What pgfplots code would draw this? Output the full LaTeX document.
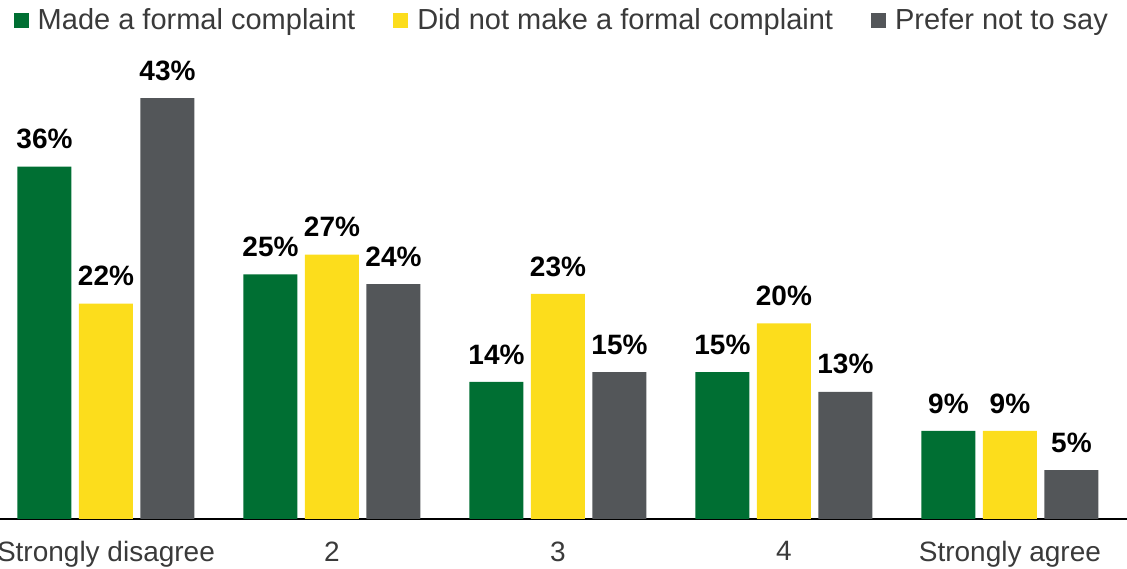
\documentclass[border=0pt]{standalone}
\usepackage{fontspec}
\setmainfont{Liberation Sans}
\usepackage{pgfplots}
\pgfplotsset{compat=1.18}
\definecolor{cgreen}{HTML}{006F33}
\definecolor{cyellow}{HTML}{FCDD1C}
\definecolor{cgray}{HTML}{535659}
\definecolor{ctext}{HTML}{3A3A3A}
\begin{document}
\begin{tikzpicture}
\begin{axis}[
  at={(0pt,50pt)}, anchor=south west,
  scale only axis, width=1127pt, height=459pt,
  ybar=7.5pt, bar width=54pt,
  xmin=-0.469, xmax=4.518, ymin=0, ymax=46.9,
  axis y line=none, axis x line*=bottom,
  x axis line style={-, line width=1.5pt, black},
  xtick={0,1,2,3,4},
  xticklabels={Strongly disagree,2,3,4,Strongly agree},
  major tick length=0pt,
  xticklabel style={font=\fontsize{28}{32}\selectfont, text=ctext, yshift=-19pt},
  clip=false,
  nodes near coords={\pgfmathprintnumber[assume math mode=true]{\pgfplotspointmeta}\%},
  every node near coord/.append style={font=\bfseries\fontsize{28}{32}\selectfont, text=black, yshift=14pt},
  legend style={at={(0.4985,1.087)}, anchor=center, draw=none, fill=none,
    font=\fontsize{29}{32}\selectfont, text=ctext,
    /tikz/every odd column/.append style={column sep=7pt},
    /tikz/every even column/.append style={column sep=36pt}},
  legend columns=-1,
  legend image code/.code={\fill[#1] (0pt,-7.5pt) rectangle (15pt,7.5pt);},
]
\addplot[fill=cgreen, draw=none] coordinates {(0,36) (1,25) (2,14) (3,15) (4,9)};
\addplot[fill=cyellow, draw=none] coordinates {(0,22) (1,27) (2,23) (3,20) (4,9)};
\addplot[fill=cgray, draw=none] coordinates {(0,43) (1,24) (2,15) (3,13) (4,5)};
\legend{Made a formal complaint, Did not make a formal complaint, Prefer not to say}
\end{axis}
\pgfresetboundingbox
\path[use as bounding box] (0,0) rectangle (1127pt,569pt);
\end{tikzpicture}
\end{document}
